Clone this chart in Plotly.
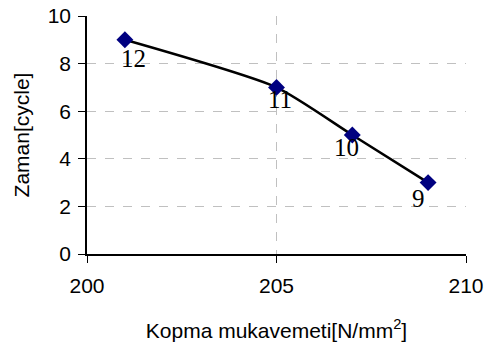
import plotly.graph_objects as go

# Tensile strength vs. time, with sample labels
strength = [201, 205, 207, 209]
time_cycle = [9, 7, 5, 3]
sample_labels = ["12", "11", "10", "9"]

x_ticks = [200, 205, 210]
y_ticks = [0, 2, 4, 6, 8, 10]

# small nudges for the point labels (px)
label_dx = [9, 3, -6, -10]
label_dy = [-19, -12, -12, -16]

fig = go.Figure()
fig.add_trace(go.Scatter(
    x=strength, y=time_cycle,
    mode="lines+markers",
    line=dict(color="black", width=2.5, shape="spline", smoothing=0.6),
    marker=dict(symbol="diamond", size=13, color="#000080"),
    showlegend=False,
))

for xv, yv, lab, dx, dy in zip(strength, time_cycle, sample_labels, label_dx, label_dy):
    fig.add_annotation(
        x=xv, y=yv, text=lab, showarrow=False,
        yshift=dy, xshift=dx,
        font=dict(family="Liberation Serif, Times New Roman, serif", size=25, color="black"),
    )

axis_font = dict(family="Liberation Sans, Arial, sans-serif", size=21, color="black")
fig.update_layout(
    width=486, height=350,
    margin=dict(l=87, r=20, t=16, b=96),
    paper_bgcolor="white", plot_bgcolor="white",
    font=axis_font,
    xaxis=dict(
        range=[200, 210], tickvals=x_ticks, automargin=False,
        showgrid=True, gridcolor="#c0c0c0", griddash="dash", gridwidth=1,
        showline=True, linecolor="black", linewidth=1.5,
        ticks="outside", ticklen=7, tickcolor="black",
        ticklabelstandoff=5,
        zeroline=False, tickfont=axis_font,
        title=dict(text="Kopma mukavemeti[N/mm<sup>2</sup>]", font=axis_font, standoff=27),
    ),
    yaxis=dict(
        range=[0, 10], tickvals=y_ticks, automargin=False,
        showgrid=True, gridcolor="#c0c0c0", griddash="dash", gridwidth=1,
        showline=True, linecolor="black", linewidth=1.5,
        ticks="outside", ticklen=7, tickcolor="black",
        ticklabelstandoff=3,
        zeroline=False, tickfont=axis_font,
        title=dict(text="Zaman[cycle]", font=axis_font, standoff=12),
    ),
)

fig.write_html("out.html")
